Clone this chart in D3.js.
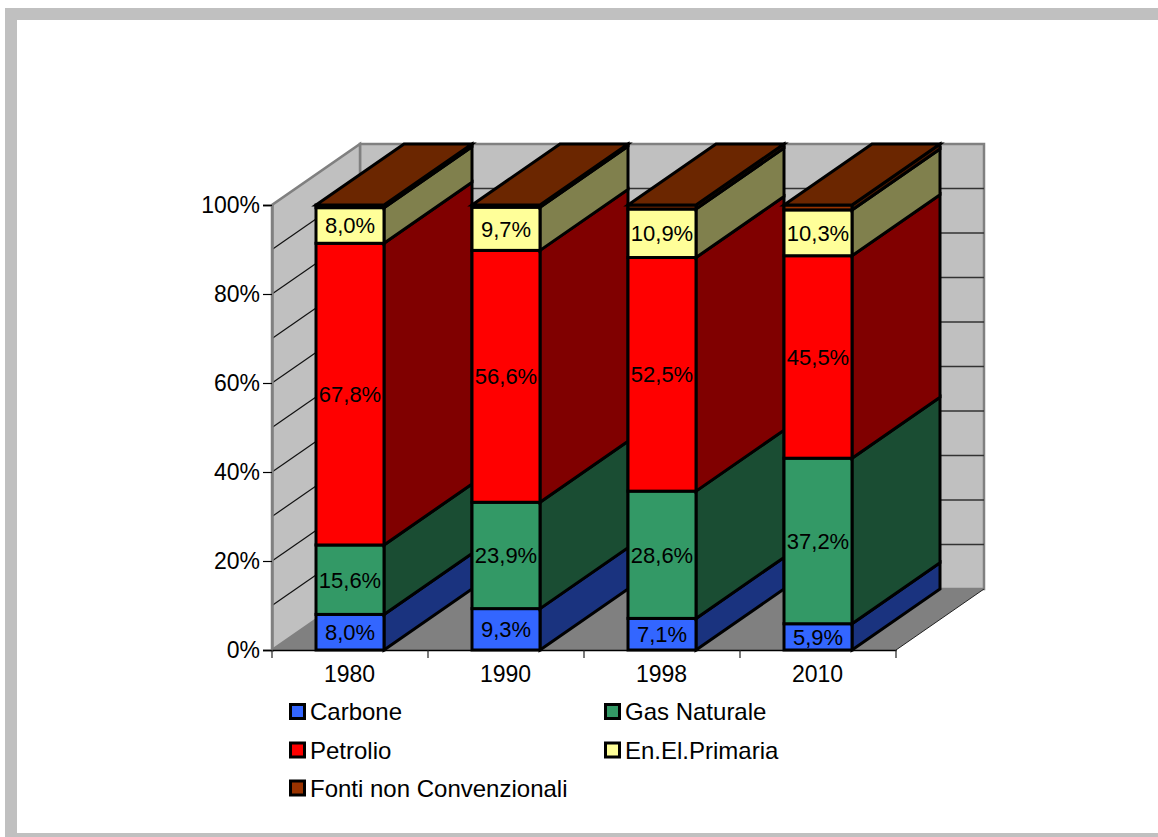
<!DOCTYPE html>
<html>
<head>
<meta charset="utf-8">
<script src="https://cdn.jsdelivr.net/npm/d3@7"></script>
<style>
  html, body { margin: 0; padding: 0; background: #fff; }
  svg { display: block; }
  text { font-family: "Liberation Sans", Arial, sans-serif; fill: #000; }
</style>
</head>
<body>
<svg id="chart" width="1158" height="837"></svg>
<script>
const years = ["1980", "1990", "1998", "2010"];
const seriesNames = ["Carbone", "Gas Naturale", "Petrolio", "En.El.Primaria", "Fonti non Convenzionali"];
const carbone = [8.0, 9.3, 7.1, 5.9];
const gasNaturale = [15.6, 23.9, 28.6, 37.2];
const petrolio = [67.8, 56.6, 52.5, 45.5];
const enElPrimaria = [8.0, 9.7, 10.9, 10.3];
const fontiNonConvenzionali = [0.6, 0.5, 0.9, 1.1];
const percentTicks = [0, 20, 40, 60, 80, 100];
const gridTicks = [10, 20, 30, 40, 50, 60, 70, 80, 90];

const frontColors = ["#3366ff", "#339966", "#ff0000", "#ffff99", "#993300"];
const sideColors = ["#1a337f", "#1a4d33", "#800000", "#80804d", "#4d1a00"];
const capColor = "#6b2600";

const svg = d3.select("#chart");

// Outer chart frame: bands on the top, left and bottom edges only
const frame = svg.append("g").attr("fill", "#c0c0c0");
frame.append("rect").attr("x", 5).attr("y", 8).attr("width", 1153).attr("height", 12);
frame.append("rect").attr("x", 5).attr("y", 8).attr("width", 12).attr("height", 829);
frame.append("rect").attr("x", 5).attr("y", 833).attr("width", 1153).attr("height", 4);

// Oblique projection: depth goes up and to the right
const depthX = 88, depthY = -61;
const x = d3.scaleBand().domain(years).range([272, 896]);
const y = d3.scaleLinear().domain([0, 100]).range([650, 205]);
const barInset = 44, barWidth = 68;
const poly = pts => pts.map(p => p.join(",")).join(" ");

const x0 = x.range()[0], x1 = x.range()[1];
const y0 = y(0), yTop = y(100);

// Back wall and side wall
svg.append("polygon")
  .attr("points", poly([[x0 + depthX, y0 + depthY], [x1 + depthX, y0 + depthY], [x1 + depthX, yTop + depthY], [x0 + depthX, yTop + depthY]]))
  .attr("fill", "#c0c0c0").attr("stroke", "#808080").attr("stroke-width", 2.5);
svg.append("polygon")
  .attr("points", poly([[x0, y0], [x0 + depthX, y0 + depthY], [x0 + depthX, yTop + depthY], [x0, yTop]]))
  .attr("fill", "#c0c0c0").attr("stroke", "#808080").attr("stroke-width", 2.5);

// Gridlines on both walls
svg.append("g").selectAll("line").data(gridTicks).join("line")
  .attr("x1", x0 + depthX).attr("x2", x1 + depthX)
  .attr("y1", t => y(t) + depthY).attr("y2", t => y(t) + depthY)
  .attr("stroke", "#333").attr("stroke-width", 1.5);
svg.append("g").selectAll("line").data(gridTicks).join("line")
  .attr("x1", x0).attr("x2", x0 + depthX)
  .attr("y1", t => y(t)).attr("y2", t => y(t) + depthY)
  .attr("stroke", "#111").attr("stroke-width", 1.2);

// Floor
svg.append("polygon")
  .attr("points", poly([[x0, y0], [x1, y0], [x1 + depthX, y0 + depthY], [x0 + depthX, y0 + depthY]]))
  .attr("fill", "#808080");
svg.append("line").attr("x1", x1).attr("y1", y0).attr("x2", x1 + depthX).attr("y2", y0 + depthY)
  .attr("stroke", "#222").attr("stroke-width", 1);

// Stacked bars with their side and top faces
const rows = years.map((year, i) => ({
  year,
  Carbone: carbone[i],
  "Gas Naturale": gasNaturale[i],
  Petrolio: petrolio[i],
  "En.El.Primaria": enElPrimaria[i],
  "Fonti non Convenzionali": fontiNonConvenzionali[i]
}));
const stacked = d3.stack().keys(seriesNames)(rows);

const styled = (sel, fill) => sel.attr("fill", fill)
  .attr("stroke", "#000").attr("stroke-width", 3).attr("stroke-linejoin", "miter");

const bars = svg.append("g");
years.forEach((year, i) => {
  const left = x(year) + barInset, right = left + barWidth;
  stacked.forEach((layer, s) => {
    const lo = y(layer[i][0]), hi = y(layer[i][1]);
    styled(bars.append("polygon")
      .attr("points", poly([[right, lo], [right + depthX, lo + depthY], [right + depthX, hi + depthY], [right, hi]])),
      sideColors[s]);
    styled(bars.append("rect").attr("x", left).attr("y", hi).attr("width", barWidth).attr("height", lo - hi),
      frontColors[s]);
  });
  const top = y(stacked[stacked.length - 1][i][1]);
  styled(bars.append("polygon")
    .attr("points", poly([[left, top], [right, top], [right + depthX, top + depthY], [left + depthX, top + depthY]])),
    capColor);
});

// Value labels, except on the thin top layer
const labels = svg.append("g").attr("font-size", 22).attr("text-anchor", "middle");
const fmt = v => v.toFixed(1).replace(".", ",") + "%";
years.forEach((year, i) => {
  const cx = x(year) + barInset + barWidth / 2;
  stacked.slice(0, 4).forEach(layer => {
    const mid = y((layer[i][0] + layer[i][1]) / 2);
    labels.append("text").attr("x", cx).attr("y", mid).attr("dy", "0.36em").text(fmt(layer[i].data[layer.key]));
  });
});

// Axes
const fontStack = '"Liberation Sans", Arial, sans-serif';
const yAxis = d3.axisLeft(y).tickValues(percentTicks).tickFormat(d => d + "%").tickSize(9).tickPadding(3);
const yG = svg.append("g").attr("transform", `translate(${x0},0)`).call(yAxis);
yG.select(".domain").attr("stroke", "#808080").attr("stroke-width", 2.5);
yG.selectAll(".tick line").attr("stroke", "#000").attr("stroke-width", 1.2);
yG.selectAll("text").attr("font-size", 23).attr("font-family", fontStack);

const xAxis = d3.axisBottom(x).tickSize(0).tickPadding(16);
const xG = svg.append("g").attr("transform", `translate(0,${y0})`).call(xAxis);
xG.select(".domain").attr("stroke", "#000").attr("stroke-width", 1.5);
xG.selectAll("text").attr("font-size", 23).attr("font-family", fontStack);
xG.selectAll(".tick").attr("transform", d => `translate(${x(d) + barInset + barWidth / 2 - 0.5},0)`);
svg.append("g").selectAll("line").data(d3.range(0, years.length + 1)).join("line")
  .attr("x1", i => x0 + i * x.step()).attr("x2", i => x0 + i * x.step())
  .attr("y1", y0).attr("y2", y0 + 8)
  .attr("stroke", "#222").attr("stroke-width", 1.2);

// Legend in two columns
const legendCols = [289, 604];
const legendRows = [711.5, 750, 788];
const legend = svg.append("g");
seriesNames.forEach((name, i) => {
  const lx = legendCols[i % 2], ly = legendRows[Math.floor(i / 2)];
  legend.append("rect").attr("x", lx + 1.5).attr("y", ly - 7).attr("width", 14).attr("height", 14)
    .attr("fill", frontColors[i]).attr("stroke", "#000").attr("stroke-width", 3);
  legend.append("text").attr("x", lx + 21).attr("y", ly).attr("dy", "0.36em").attr("font-size", 24).text(name);
});
</script>
</body>
</html>
